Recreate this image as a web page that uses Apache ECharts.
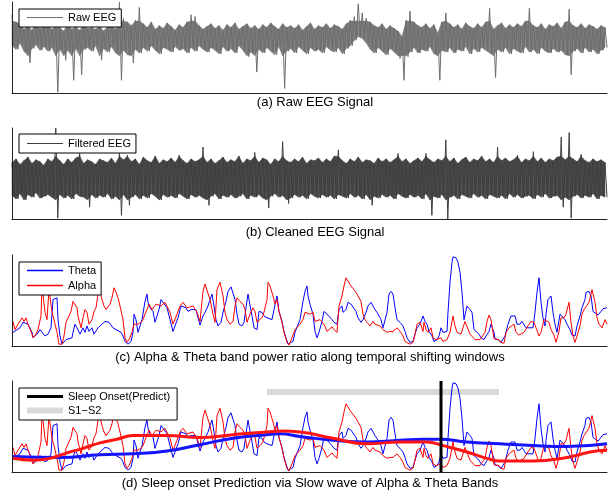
<!DOCTYPE html>
<html><head><meta charset="utf-8">
<script src="https://cdn.jsdelivr.net/npm/echarts@6/dist/echarts.min.js"></script>
<style>html,body{margin:0;padding:0;background:#fff}#c{width:614px;height:493px}</style>
</head><body><div id="c"></div>
<script>
// (a) raw EEG: upper / lower excursions per sample pair (0-100 amplitude scale)
const rawHi = [86,78,76,70,74,69,77,71,73,75, 70,74,72,68,76,70,73,69,75,71, 72,70,74,68,73,76,70,100,82,78,
  74,80,94,76,72,78,70,74,71,77, 73,69,75,72,78,86,84,74,70,73, 76,71,74,69,75,72,77,70,73,76,
  71,74,70,75,72,77,73,70,76,72, 74,71,75,69,73,77,70,74,72,76, 71,75,73,70,76,80,84,98,88,82,
  78,74,72,76,70,74,71,68,62,80, 90,78,74,72,76,71,75,66,78,88, 76,72,75,70,77,73,71,76,72,78,
  93,70,74,77,71,75,72,76,73,79, 93,74,72,76,70,75,73,77,71,78, 92,74,72,76,71,75,73,70,74,72];
const rawLo = [52,48,55,46,33,49,53,47,51,46, 50,1,48,36,47,14,49,20,48,50, 46,52,36,49,45,51,44,14,47,42,
  33,48,44,50,46,52,47,43,50,48, 45,51,47,49,44,50,46,52,48,45, 50,47,43,51,46,49,44,52,47,40,
  45,23,48,44,50,46,42,51,5,46, 49,44,51,47,43,50,46,48,44,51, 47,45,50,43,49,52,58,62,60,55,
  48,44,50,46,42,49,45,38,14,40, 45,50,44,48,46,51,43,14,47,45, 50,44,48,46,51,43,49,45,50,47,
  44,17,48,45,50,43,49,46,44,51, 45,48,43,50,46,44,49,45,47,42, 20,46,49,44,50,45,48,43,47,50];
// (b) filtered EEG
const filtHi = [62,66,60,64,68,61,65,63,59,66, 63,100,64,60,66,62,67,72,61,65, 63,60,66,64,62,67,61,74,65,70,
  63,66,60,68,64,62,69,61,65,63, 67,62,70,64,61,66,63,65,79,62, 66,61,64,68,62,65,63,69,61,66,
  64,73,62,67,65,60,66,63,85,64, 62,66,63,68,61,65,64,67,62,66, 63,69,76,64,61,66,63,68,62,65,
  64,61,67,63,66,62,65,72,63,66, 61,64,67,63,72,65,62,66,64,87, 63,67,61,65,68,62,66,64,69,63,
  66,62,79,64,67,63,65,70,62,66, 64,74,63,67,62,66,64,68,90,65, 95,66,63,71,64,62,66,63,65,62];
const filtLo = [26,22,28,21,27,24,29,23,25,27, 24,1,27,23,26,22,28,25,24,13, 27,23,26,24,28,22,25,4,27,15,
  24,27,22,26,23,28,25,21,27,24, 26,23,28,25,22,27,24,26,23,15, 25,28,22,26,24,27,23,25,28,22,
  26,24,27,23,12,25,28,24,26,17, 23,27,24,26,22,28,25,23,27,24, 26,22,27,25,23,28,24,26,22,27,
  15,25,23,27,24,26,22,28,25,23, 27,24,26,22,28,4,25,23,27,0, 24,26,22,27,25,23,28,24,26,22,
  27,25,23,26,22,28,24,27,23,25, 26,22,27,24,28,23,25,26,13,24, 1,25,27,23,26,24,28,22,26,24];
// (c)/(d) band power ratio along windows: [window, value]
const theta = [[1,15],[3,13],[8,20],[11,26],[13,27],[16,24],[20,15],[21,9],[25,13],[28,18],[30,16],[33,11],[36,13],[39,20],[41,51],[45,53],[46,29],[48,11],[50,2],[51,0],[54,7],[56,9],[60,9],[61,15],[63,24],[65,20],[68,13],[71,20],[73,15],[75,22],[77,16],[80,20],[82,13],[84,15],[86,20],[90,24],[93,27],[95,29],[97,26],[101,20],[104,18],[106,20],[109,15],[111,11],[113,5],[116,2],[119,5],[121,15],[122,35],[124,29],[126,15],[128,13],[130,29],[133,49],[135,57],[136,48],[138,42],[141,38],[143,26],[145,27],[147,40],[149,51],
[151,49],[155,42],[158,29],[161,16],[163,18],[166,31],[169,44],[171,45],[174,42],[176,38],[179,40],[181,42],[184,40],[186,31],[188,23],[191,33],[193,37],[196,44],[198,51],[200,57],[202,44],[204,29],[206,22],[209,26],[211,37],[214,49],[216,60],[219,65],[221,64],[223,51],[225,35],[227,24],[230,22],[232,26],[234,42],[236,57],[237,51],[240,33],[242,20],[245,18],[247,38],[250,37],[252,33],[255,31],[257,33],[260,29],[262,40],[265,55],[267,38],[270,27],[272,16],[274,9],[276,2],[278,0],[281,5],[283,15],[285,13],[288,29],[291,49],[293,60],[295,66],[296,55],
[298,46],[301,35],[303,16],[305,9],[307,15],[310,27],[312,38],[315,35],[317,35],[320,29],[322,26],[325,24],[327,40],[330,44],[331,37],[334,40],[336,48],[339,46],[341,44],[344,38],[346,31],[349,26],[351,29],[354,37],[356,44],[359,48],[361,48],[363,40],[365,37],[367,38],[369,29],[371,20],[373,22],[375,37],[377,57],[379,60],[381,57],[383,42],[385,29],[388,26],[391,22],[393,16],[395,9],[398,4],[401,5],[403,13],[405,20],[408,24],[411,33],[413,27],[415,24],[417,16],[420,11],[422,5],[425,7],[427,11],[429,20],[431,15],[433,13],[435,16],[436,37],[438,70],[440,92],[441,98],[444,97],[446,92],[448,81],
[450,59],[452,29],[453,27],[455,44],[458,40],[460,37],[462,18],[464,16],[467,13],[469,9],[472,7],[474,11],[477,16],[479,24],[482,15],[483,8],[486,7],[489,4],[491,3],[493,11],[496,24],[499,33],[501,35],[503,33],[505,24],[508,24],[510,27],[512,29],[514,20],[517,20],[519,20],[521,20],[523,37],[525,59],[527,75],[529,48],[531,31],[533,22],[534,35],[536,51],[539,55],[541,37],[543,24],[545,15],[548,35],[550,33],[553,29],[555,24],[558,18],[560,12],[563,11],[565,22],[568,33],[570,42],[573,51],[574,59],[577,60],[579,55],[581,38],[583,37],[586,34],[589,38],[591,41],[593,43],[595,42]];
const alpha = [[1,27],[3,18],[6,24],[10,31],[12,27],[14,31],[16,24],[20,13],[21,9],[24,13],[26,18],[29,33],[30,66],[33,37],[35,29],[37,62],[40,37],[42,29],[45,15],[47,2],[50,2],[52,11],[54,26],[56,27],[59,38],[61,49],[62,51],[65,42],[66,33],[69,20],[71,31],[73,40],[75,37],[77,24],[80,29],[82,38],[84,42],[86,57],[88,60],[90,51],[92,44],[94,40],[96,42],[98,46],[100,53],[102,64],[104,59],[106,53],[108,44],[111,29],[113,9],[115,4],[117,7],[120,15],[122,24],[124,26],[126,24],[129,26],[131,29],[133,35],[135,40],[137,46],[140,40],[142,38],[144,46],[146,44],[149,44],
[151,46],[153,48],[155,48],[158,37],[161,24],[163,24],[165,35],[168,44],[171,48],[173,46],[175,42],[178,43],[181,44],[183,43],[185,37],[188,27],[191,60],[193,68],[195,66],[198,51],[201,35],[203,26],[205,62],[208,70],[211,55],[213,37],[215,29],[218,24],[221,27],[223,44],[225,53],[228,49],[231,46],[233,40],[235,26],[238,35],[241,42],[243,38],[245,26],[248,29],[251,33],[253,35],[255,51],[256,70],[258,66],[261,55],[263,46],[265,51],[267,38],[270,26],[272,15],[275,4],[277,1],[280,9],[283,18],[285,16],[288,24],[291,29],[293,37],[295,37],[298,35],
[301,37],[303,27],[305,26],[308,29],[310,31],[312,24],[315,16],[317,18],[320,21],[322,18],[325,15],[327,44],[330,55],[332,66],[334,75],[336,75],[339,66],[341,64],[344,59],[346,55],[349,49],[351,35],[353,29],[355,26],[358,22],[361,27],[363,24],[365,24],[368,22],[371,18],[373,16],[375,15],[378,16],[381,16],[383,15],[385,20],[388,16],[391,11],[393,5],[395,3],[398,2],[401,4],[403,13],[405,24],[408,26],[411,16],[412,26],[414,18],[416,15],[419,20],[421,9],[424,7],[426,7],[429,9],[431,5],[433,4],[435,7],[438,15],[441,33],[443,22],[445,15],[447,13],[449,13],
[451,20],[453,27],[455,27],[458,13],[460,11],[463,7],[465,5],[468,7],[470,9],[473,15],[475,27],[477,34],[479,29],[482,8],[484,7],[487,7],[489,4],[492,3],[494,15],[497,20],[499,22],[502,24],[504,15],[507,12],[509,13],[512,15],[514,16],[517,24],[519,27],[522,26],[524,20],[527,11],[529,15],[532,29],[534,27],[537,26],[539,18],[542,12],[544,4],[547,16],[549,31],[552,31],[554,35],[557,48],[559,26],[561,11],[563,4],[565,11],[568,22],[570,35],[572,40],[574,41],[577,48],[579,57],[580,62],[583,48],[585,31],[587,24],[590,20],[593,29],[595,24]];
// (d) slow waves
const thetaSlow = [[1,17],[48,16],[88,19],[121,20],[155,23],[188,30],[221,37],[255,41],[268,42],[288,39],[321,35],[355,33],[388,35],[411,36],[428,36],[455,33],[488,31],[521,29],[555,28],[595,31]];
const alphaSlow = [[1,15],[21,13],[38,15],[55,21],[71,26],[88,32],[105,36],[121,40],[155,40],[188,38],[221,41],[255,44],[271,45],[288,44],[321,37],[355,31],[388,33],[415,33],[431,29],[455,22],[475,15],[488,12],[521,12],[555,16],[578,22],[595,24]];
const onsetWindow = 429;
const s1s2Range = [255, 487];
const s1s2Level = 88;
const captions = ['(a) Raw EEG Signal', '(b) Cleaned EEG Signal', '(c) Alpha & Theta band power ratio along temporal shifting windows', '(d) Sleep onset Prediction via Slow wave of Alpha & Theta Bands'];

const FONT = '"Liberation Sans", Arial, Helvetica, sans-serif';
function zigzag(hi, lo) {
  const out = [];
  for (let i = 0; i < hi.length; i++) { out.push([i, hi[i]]); out.push([i + 0.5, lo[i]]); }
  return out;
}
function bandData(hi, lo) {
  const out = [];
  for (let i = 0; i < hi.length - 1; i++) out.push([i, hi[i], lo[i], hi[i + 1], lo[i + 1]]);
  return out;
}
const tops = [2, 128, 255, 381];
const grid = tops.map(t => ({ left: 12, width: 595, top: t, height: 91 }));
const axisLine = { show: true, onZero: false, lineStyle: { color: '#222', width: 1 } };
const xAxis = tops.map((t, i) => ({
  type: 'value', gridIndex: i, min: 0, max: i < 2 ? rawHi.length - 0.5 : 595, z: 10,
  axisLine: axisLine, axisTick: { show: false }, axisLabel: { show: false }, splitLine: { show: false }
}));
const yAxis = tops.map((t, i) => ({
  type: 'value', gridIndex: i, min: 0, max: 100, z: 10,
  axisLine: axisLine, axisTick: { show: false }, axisLabel: { show: false }, splitLine: { show: false }
}));
function line(name, idx, data, color, width, extra) {
  return Object.assign({ type: 'line', name: name, xAxisIndex: idx, yAxisIndex: idx, data: data,
    symbol: 'none', silent: true, animation: false,
    lineStyle: { color: color, width: width }, itemStyle: { color: color } }, extra || {});
}
// dense core of the trace (spikes beyond the core are left to the thin trace line)
function band(name, idx, hi, lo, color, capTop, capBottom) {
  return {
    type: 'custom', name: name, xAxisIndex: idx, yAxisIndex: idx, silent: true, animation: false,
    data: bandData(hi, lo),
    encode: { x: 0, y: [1, 2] },
    renderItem: function (params, api) {
      const x0 = api.value(0), x1 = x0 + 1;
      const t0 = Math.min(api.value(1), capTop), t1 = Math.min(api.value(3), capTop);
      const b0 = Math.max(api.value(2), capBottom), b1 = Math.max(api.value(4), capBottom);
      const pts = [api.coord([x0, t0]), api.coord([x1, t1]), api.coord([x1, b1]), api.coord([x0, b0])];
      return { type: 'polygon', shape: { points: pts }, style: { fill: color, stroke: color, lineWidth: 0.5 } };
    }
  };
}
const series = [
  band('raw band', 0, rawHi, rawLo, '#7a7a7a', 79, 41),
  line('Raw EEG', 0, zigzag(rawHi, rawLo), '#6e6e6e', 1),
  band('filt band', 1, filtHi, filtLo, '#474747', 69, 21),
  line('Filtered EEG', 1, zigzag(filtHi, filtLo), '#404040', 1),
  line('Theta', 2, theta, '#0000ff', 1),
  line('Alpha', 2, alpha, '#ff0000', 1),
  line('S1\u2212S2', 3, [[s1s2Range[0], s1s2Level], [s1s2Range[1], s1s2Level]], '#d9d9d9', 6),
  line('Theta ', 3, theta, '#0000ff', 1),
  line('Alpha ', 3, alpha, '#ff0000', 1),
  line('Theta slow', 3, thetaSlow, '#1414ff', 3, { smooth: true }),
  line('Alpha slow', 3, alphaSlow, '#ff1414', 3, { smooth: true }),
  line('Sleep Onset(Predict)', 3, [[onsetWindow, 0], [onsetWindow, 100]], '#000000', 3)
];
function icon(h) { return 'path://M0,0H36V' + h + 'H0Z'; }
function legend(items, left, top, pad, gap) {
  return { data: items, left: left, top: top, orient: 'vertical', itemWidth: 36, itemHeight: 10, itemGap: gap,
    padding: pad, borderColor: '#000', borderWidth: 1, backgroundColor: '#fff', borderRadius: 0,
    selectedMode: false, itemStyle: { borderWidth: 0 }, z: 20,
    textStyle: { fontSize: 11, color: '#000', fontFamily: FONT } };
}
const option = {
  backgroundColor: '#fff',
  animation: false,
  grid: grid, xAxis: xAxis, yAxis: yAxis, series: series,
  legend: [
    legend([{ name: 'Raw EEG', icon: icon(1) }], 19, 9, [3, 5, 4, 8], 4),
    legend([{ name: 'Filtered EEG', icon: icon(1) }], 19, 134, [4, 5, 4, 8], 4),
    legend([{ name: 'Theta', icon: icon(1.4) }, { name: 'Alpha', icon: icon(1.4) }], 19, 262, [3, 5, 4, 8], 4),
    legend([{ name: 'Sleep Onset(Predict)', icon: icon(3) }, { name: 'S1\u2212S2', icon: icon(6) }], 19, 388, [3, 7, 4, 8], 3)
  ],
  graphic: captions.map((c, i) => ({ type: 'text', style: { text: c, x: [315, 315, 310, 310][i], y: [102, 232, 357, 483][i],
    textAlign: 'center', textVerticalAlign: 'middle', font: '13px ' + FONT, fill: '#000' } }))
};
const chart = echarts.init(document.getElementById('c'));
chart.setOption(option);
</script></body></html>
